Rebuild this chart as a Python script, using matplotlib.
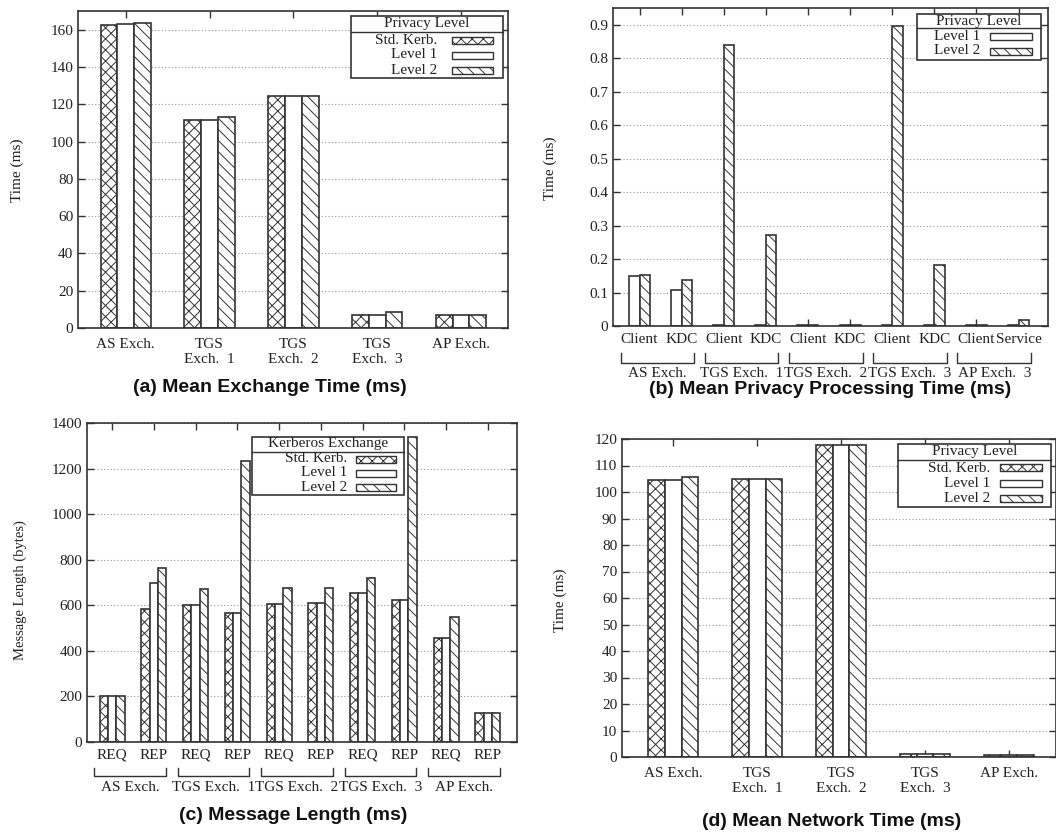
import numpy as np
import matplotlib
matplotlib.use("Agg")
from matplotlib import pyplot as plt
from matplotlib.patches import Rectangle
from matplotlib.lines import Line2D
from matplotlib.transforms import blended_transform_factory

W, H = 1056, 833
plt.rcParams['font.family'] = ['Liberation Serif', 'DejaVu Serif']
plt.rcParams['font.size'] = 11
plt.rcParams['hatch.linewidth'] = 0.7
EDGE = '#333333'
TXT = '#222222'

# (a) mean exchange time
groups_a = ['AS Exch.', 'TGS\nExch.  1', 'TGS\nExch.  2', 'TGS\nExch.  3', 'AP Exch.']
a_std = [162.7, 111.3, 124.5, 7.0, 7.1]
a_l1 = [163.2, 111.3, 124.5, 7.0, 7.1]
a_l2 = [163.6, 113.4, 124.3, 8.4, 7.1]

# (b) mean privacy processing time
sub_b = ['Client', 'KDC', 'Client', 'KDC', 'Client', 'KDC', 'Client', 'KDC', 'Client', 'Service']
groups_b = ['AS Exch.', 'TGS Exch.  1', 'TGS Exch.  2', 'TGS Exch.  3', 'AP Exch.  3']
b_l1 = [0.149, 0.107, 0.003, 0.003, 0.003, 0.003, 0.003, 0.003, 0.003, 0.003]
b_l2 = [0.152, 0.136, 0.840, 0.271, 0.003, 0.003, 0.897, 0.182, 0.003, 0.019]

# (c) message length
sub_c = ['REQ', 'REP'] * 5
groups_c = ['AS Exch.', 'TGS Exch.  1', 'TGS Exch.  2', 'TGS Exch.  3', 'AP Exch.']
c_std = [204, 584, 603, 565, 606, 610, 652, 622, 458, 127]
c_l1 = [204, 696, 603, 565, 606, 610, 652, 622, 458, 127]
c_l2 = [204, 762, 670, 1232, 674, 677, 720, 1337, 547, 127]

# (d) mean network time
groups_d = groups_a
d_std = [104.4, 104.9, 117.8, 1.3, 0.9]
d_l1 = [104.7, 104.9, 117.8, 1.3, 0.9]
d_l2 = [105.7, 104.9, 117.8, 1.3, 0.9]

STYLES = {'Std. Kerb.': dict(facecolor='white', hatch='xxx'),
          'Level 1': dict(facecolor='white', hatch=''),
          'Level 2': dict(facecolor='white', hatch='\\\\\\')}

fig = plt.figure(figsize=(W / 100, H / 100), dpi=100)


def fx(x):
    return x / W


def fy(y):
    return 1 - y / H


def axes_px(left, top, right, bottom):
    return fig.add_axes([left / W, 1 - bottom / H, (right - left) / W, (bottom - top) / H])


def style_axes(ax, yticks, ylim, xlim, xpos, xlabels):
    ax.set_ylim(*ylim)
    ax.set_xlim(*xlim)
    ax.set_yticks(yticks)
    ax.set_xticks(xpos)
    ax.set_xticklabels(xlabels)
    ax.yaxis.grid(True, linestyle=(0, (1, 2)), color='#999999', linewidth=0.8)
    ax.set_axisbelow(True)
    ax.tick_params(direction='in', top=True, right=True, length=5, width=1,
                   color=EDGE, labelcolor=TXT, labelsize=11)
    ax.tick_params(axis='x', pad=7)
    for s in ax.spines.values():
        s.set_color(EDGE)
        s.set_linewidth(1.2)


def bars(ax, pos, series, names, width):
    n = len(series)
    offs = (np.arange(n) - (n - 1) / 2) * width
    for vals, name, off in zip(series, names, offs):
        ax.bar(pos + off, vals, width, edgecolor=EDGE, linewidth=1.2, **STYLES[name])


def brackets(ax, pos, labels, top, line, text_y, left=0.45, right=0.3):
    tr = blended_transform_factory(ax.transData, ax.transAxes)
    for i, lab in enumerate(labels):
        x0 = pos[2 * i] - left
        x1 = pos[2 * i + 1] + right
        ax.plot([x0, x0, x1, x1], [top, line, line, top], color=EDGE, lw=1.0,
                transform=tr, clip_on=False)
        ax.text((x0 + x1) / 2, text_y, lab, transform=tr, ha='center', va='center',
                fontsize=11, color=TXT)


def legend(box, title, title_y, sep_y, names, rows, label_x, sample_x):
    x0, y0, x1, y1 = box
    fig.add_artist(Rectangle((fx(x0), fy(y1)), (x1 - x0) / W, (y1 - y0) / H,
                             transform=fig.transFigure, facecolor='white',
                             edgecolor=EDGE, linewidth=1.2, zorder=10))
    fig.add_artist(Line2D([fx(x0), fx(x1)], [fy(sep_y), fy(sep_y)],
                          transform=fig.transFigure, color=EDGE, lw=1.0, zorder=11))
    fig.text(fx((x0 + x1) / 2), fy(title_y), title, ha='center', va='center',
             fontsize=11, color=TXT, zorder=12)
    for name, yy in zip(names, rows):
        fig.text(fx(label_x), fy(yy), name, ha='right', va='center',
                 fontsize=11, color=TXT, zorder=12)
        fig.add_artist(Rectangle((fx(sample_x[0]), fy(yy + 3.5)),
                                 (sample_x[1] - sample_x[0]) / W, 7 / H,
                                 transform=fig.transFigure, edgecolor=EDGE,
                                 linewidth=1.0, zorder=12, **STYLES[name]))


names3 = ['Std. Kerb.', 'Level 1', 'Level 2']

# ---- (a)
ax = axes_px(78, 11, 508, 328)
pos = np.arange(len(groups_a))
bars(ax, pos, [a_std, a_l1, a_l2], names3, 0.2)
style_axes(ax, np.arange(0, 161, 20), (0, 170), (-0.57, 4.56), pos, groups_a)
fig.text(fx(17), fy(170), 'Time (ms)', rotation=90, ha='center', va='center', color=TXT)
legend((351, 16, 503, 78), 'Privacy Level', 24, 32, names3, [40, 55, 70], 437, (452, 493))
fig.text(fx(270), fy(387), '(a) Mean Exchange Time (ms)', ha='center', va='center',
         fontsize=14, fontweight='bold', family='Liberation Sans', color='#111111')

# ---- (b)
ax = axes_px(613, 8, 1048, 326)
pos = np.arange(len(sub_b))
bars(ax, pos, [b_l1, b_l2], ['Level 1', 'Level 2'], 0.25)
style_axes(ax, np.round(np.arange(0, 0.91, 0.1), 1), (0, 0.95), (-0.63, 9.7), pos, sub_b)
ax.set_yticklabels(['0'] + ['%.1f' % v for v in np.arange(0.1, 0.91, 0.1)])
ax.tick_params(axis='x', pad=5)
brackets(ax, pos, groups_b, -0.085, -0.116, -0.149)
fig.text(fx(550), fy(168), 'Time (ms)', rotation=90, ha='center', va='center', color=TXT)
legend((917, 14, 1041, 60), 'Privacy Level', 21, 28, ['Level 1', 'Level 2'], [36, 51], 980, (990, 1032))
fig.text(fx(830), fy(389), '(b) Mean Privacy Processing Time (ms)', ha='center', va='center',
         fontsize=14, fontweight='bold', family='Liberation Sans', color='#111111')

# ---- (c)
ax = axes_px(87, 423, 517, 742)
pos = np.arange(len(sub_c))
bars(ax, pos, [c_std, c_l1, c_l2], names3, 0.2)
style_axes(ax, np.arange(0, 1401, 200), (0, 1400), (-0.6, 9.7), pos, sub_c)
ax.tick_params(axis='x', pad=5)
brackets(ax, pos, groups_c, -0.08, -0.107, -0.142, left=0.43, right=0.29)
fig.text(fx(20), fy(590), 'Message Length (bytes)', rotation=90, ha='center', va='center',
         fontsize=10.5, color=TXT)
legend((252, 437, 404, 495), 'Kerberos Exchange', 444, 452, names3, [459, 473, 488], 347, (356, 396))
fig.text(fx(293), fy(815), '(c) Message Length (ms)', ha='center', va='center',
         fontsize=14, fontweight='bold', family='Liberation Sans', color='#111111')

# ---- (d)
ax = axes_px(622, 439, 1056, 757)
pos = np.arange(len(groups_d))
bars(ax, pos, [d_std, d_l1, d_l2], names3, 0.2)
style_axes(ax, np.arange(0, 121, 10), (0, 120), (-0.61, 4.56), pos, groups_d)
fig.text(fx(560), fy(600), 'Time (ms)', rotation=90, ha='center', va='center', color=TXT)
legend((898, 444, 1051, 507), 'Privacy Level', 452, 460, names3, [468, 483, 498], 990, (1000, 1042))
fig.text(fx(832), fy(822), '(d) Mean Network Time (ms)', ha='center', va='center',
         fontsize=14, fontweight='bold', family='Liberation Sans', color='#111111')

fig.savefig('out.png', dpi=100)
